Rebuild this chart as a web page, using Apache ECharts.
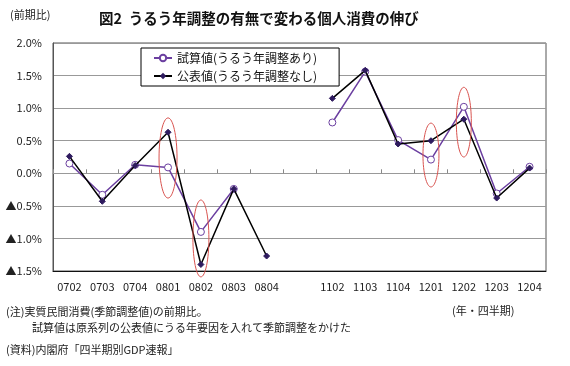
<!DOCTYPE html>
<html><head><meta charset="utf-8">
<script src="https://cdn.jsdelivr.net/npm/echarts@6/dist/echarts.min.js"></script>
<style>html,body{margin:0;padding:0;background:#fff}#c{width:570px;height:366px}</style>
</head><body><div id="c"></div>
<script>
const categories = ['0702','0703','0704','0801','0802','0803','0804','','1102','1103','1104','1201','1202','1203','1204'];
const trialValues = [0.15,-0.33,0.13,0.09,-0.90,-0.24,null,null,0.78,1.56,0.51,0.21,1.02,-0.31,0.10];
const publicValues = [0.26,-0.43,0.12,0.63,-1.40,-0.24,-1.27,null,1.15,1.58,0.45,0.50,0.83,-0.38,0.08];
const seriesNames = ['試算値(うるう年調整あり)','公表値(うるう年調整なし)'];
const yTicks = {min:-1.5, max:2.0, interval:0.5};
const annotCats = ['0801','0802','1201','1202'];
const annotLo = [-0.38,-1.59,-0.21,0.25];
const annotHi = [0.85,-0.41,0.77,1.32];
const annotRx = [9,8,8,7.5];

const FONT = "'Noto Sans CJK JP','Noto Sans',sans-serif";
const chart = echarts.init(document.getElementById('c'));
const annotData = annotCats.map((c,i)=>[categories.indexOf(c), annotLo[i], annotHi[i], annotRx[i]]);

chart.setOption({
  animation:false,
  backgroundColor:'#fff',
  textStyle:{fontFamily:FONT},
  title:{text:'図2  うるう年調整の有無で変わる個人消費の伸び', left:94, top:6,
    textStyle:{fontSize:14.5, fontWeight:'bold', color:'#111', fontFamily:FONT}},
  grid:{left:53, right:24, top:43, bottom:95, show:true, borderColor:'#555', borderWidth:1, containLabel:false},
  legend:{
    data:seriesNames, orient:'vertical', left:141, top:48,
    borderColor:'#000', borderWidth:1, padding:[4,22,4,12], itemGap:6,
    itemWidth:18, itemHeight:8,
    textStyle:{fontSize:12, color:'#111', fontFamily:FONT}, backgroundColor:'#fff'
  },
  xAxis:[{
    type:'category', data:categories, boundaryGap:true, position:'bottom',
    axisLine:{show:true, onZero:false, lineStyle:{color:'#111'}},
    axisTick:{show:false},
    axisLabel:{fontSize:11, color:'#222', margin:10, interval:0}
  },{
    type:'category', data:categories, boundaryGap:true, position:'bottom',
    axisLine:{show:true, onZero:true, lineStyle:{color:'#999'}},
    axisTick:{show:true, inside:true, length:4, interval:0, lineStyle:{color:'#888'}},
    axisLabel:{show:false}
  }],
  yAxis:{
    type:'value', min:yTicks.min, max:yTicks.max, interval:yTicks.interval,
    axisLine:{show:true, lineStyle:{color:'#555'}}, axisTick:{show:false},
    splitLine:{lineStyle:{color:'#999', width:1}},
    axisLabel:{fontSize:11, color:'#222', margin:11,
      formatter:v=>{const s=Math.abs(v).toFixed(1)+'%'; return v<0?'▲'+s:s;}}
  },
  series:[{
    name:seriesNames[0], type:'line', data:trialValues, connectNulls:false,
    symbol:'circle', symbolSize:7, showSymbol:true,
    lineStyle:{color:'#6B3FA0', width:1.5},
    itemStyle:{color:'#fff', borderColor:'#6B3FA0', borderWidth:1}, z:3
  },{
    name:seriesNames[1], type:'line', data:publicValues, connectNulls:false,
    symbol:'diamond', symbolSize:6,
    lineStyle:{color:'#000', width:1.5},
    itemStyle:{color:'#2E1A5E', borderColor:'#2E1A5E'}, z:4
  },{
    type:'custom', data:annotData, clip:false, silent:true, z:5,
    renderItem:(params, api)=>{
      const p1 = api.coord([api.value(0), api.value(1)]);
      const p2 = api.coord([api.value(0), api.value(2)]);
      return {type:'ellipse', shape:{cx:p1[0], cy:(p1[1]+p2[1])/2, rx:api.value(3), ry:Math.abs(p1[1]-p2[1])/2},
        style:{fill:null, stroke:'#D9534F', lineWidth:1}};
    }
  }],
  graphic:[
    {type:'text', left:10, top:9, style:{text:'(前期比)', fontSize:11, fill:'#222', fontFamily:FONT}},
    {type:'text', left:452, top:305, style:{text:'(年・四半期)', fontSize:11, fill:'#222', fontFamily:FONT}},
    {type:'text', left:6, top:306, style:{text:'(注)実質民間消費(季節調整値)の前期比。', fontSize:11, fill:'#222', fontFamily:FONT}},
    {type:'text', left:32, top:322, style:{text:'試算値は原系列の公表値にうる年要因を入れて季節調整をかけた', fontSize:11, fill:'#222', fontFamily:FONT}},
    {type:'text', left:6, top:344, style:{text:'(資料)内閣府「四半期別GDP速報」', fontSize:11, fill:'#222', fontFamily:FONT}}
  ]
});
</script></body></html>
